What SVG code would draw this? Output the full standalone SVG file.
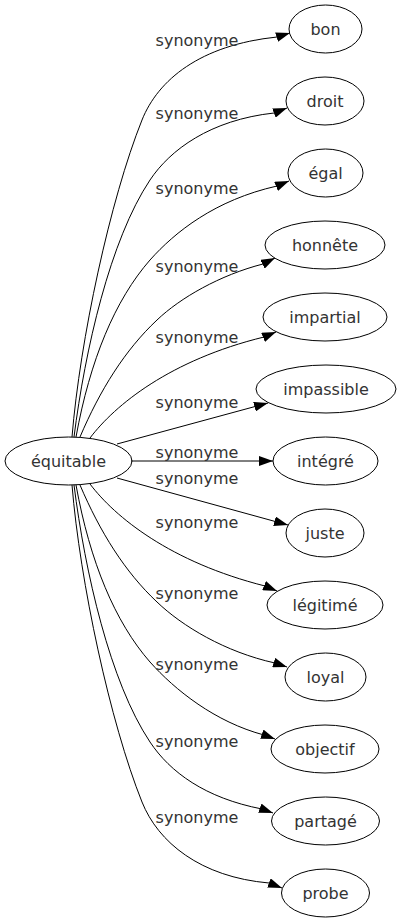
<svg xmlns="http://www.w3.org/2000/svg" width="401" height="923" viewBox="0 0 401 923">
<style>
.bg{fill:#ffffff}
.node ellipse{fill:none;stroke:#000;stroke-width:1}
.node text{font-family:"DejaVu Sans",sans-serif;font-size:16px;fill:#333;text-anchor:middle}
.edge path{fill:none;stroke:#000;stroke-width:1;marker-end:url(#arr)}
.edge text{font-family:"DejaVu Sans",sans-serif;font-size:16px;fill:#333;text-anchor:middle}
</style>
<defs>
<marker id="arr" markerUnits="userSpaceOnUse" markerWidth="14" markerHeight="10" viewBox="0 0 13.3 9.4" refX="13.3" refY="4.7" orient="auto">
<path d="M0,0 L13.3,4.7 L0,9.4 Z" fill="#000"/>
</marker>
</defs>
<rect class="bg" x="0" y="0" width="401" height="923"/>
<g id="edges">
<g class="edge" id="e-bon"><path d="M72,437 C80,340 110,200 142,120 C158,80 200,45 277,37 L290,33"/><text x="197" y="45.5">synonyme</text></g>
<g class="edge" id="e-droit"><path d="M74,437 C85,350 110,240 150,180 C170,150 210,120 274,113 L287,108"/><text x="197" y="118.5">synonyme</text></g>
<g class="edge" id="e-egal"><path d="M76,437 C90,360 115,300 150,260 C175,232 215,200 277,186 L289,181"/><text x="197" y="193.5">synonyme</text></g>
<g class="edge" id="e-honnete"><path d="M80,437 C100,390 125,350 157,320 C180,298 220,275 263,264 L275,258"/><text x="197" y="271.5">synonyme</text></g>
<g class="edge" id="e-impartial"><path d="M90,438 C115,405 170,360 264,337 L276,332"/><text x="197" y="342.5">synonyme</text></g>
<g class="edge" id="e-impassible"><path d="M117,444 L268,403"/><text x="197" y="407.5">synonyme</text></g>
<g class="edge" id="e-integre"><path d="M131,461 L273,461"/><text x="197" y="457.5">synonyme</text></g>
<g class="edge" id="e-juste"><path d="M117,478 L288,525"/><text x="197" y="483.5">synonyme</text></g>
<g class="edge" id="e-legitime"><path d="M90,484 C115,517 170,562 265,586 L277,591"/><text x="197" y="527.5">synonyme</text></g>
<g class="edge" id="e-loyal"><path d="M80,485 C100,532 125,572 157,602 C182,626 225,652 275,663 L287,667"/><text x="197" y="598.5">synonyme</text></g>
<g class="edge" id="e-objectif"><path d="M76,485 C90,562 115,622 150,662 C175,690 215,722 264,735 L275,739"/><text x="197" y="669.5">synonyme</text></g>
<g class="edge" id="e-partage"><path d="M74,485 C85,572 110,682 150,742 C170,772 205,798 262,809 L273,813"/><text x="197" y="746.5">synonyme</text></g>
<g class="edge" id="e-probe"><path d="M72,485 C80,582 110,722 142,802 C158,842 200,877 269,883 L282,888"/><text x="197" y="822.5">synonyme</text></g>
</g>
<g class="node" id="n-equitable"><ellipse cx="68.5" cy="461" rx="63.5" ry="24"/><text x="68.5" y="466.5">équitable</text></g>
<g class="node" id="n-bon"><ellipse cx="325.5" cy="29" rx="36.5" ry="24"/><text x="325.5" y="34.5">bon</text></g>
<g class="node" id="n-droit"><ellipse cx="325" cy="101" rx="39" ry="24"/><text x="325" y="106.5">droit</text></g>
<g class="node" id="n-egal"><ellipse cx="325.5" cy="173" rx="37.5" ry="24"/><text x="325.5" y="178.5">égal</text></g>
<g class="node" id="n-honnete"><ellipse cx="325" cy="245" rx="60" ry="24"/><text x="325" y="250.5">honnête</text></g>
<g class="node" id="n-impartial"><ellipse cx="325" cy="317" rx="62" ry="24"/><text x="325" y="322.5">impartial</text></g>
<g class="node" id="n-impassible"><ellipse cx="326" cy="389" rx="70" ry="24"/><text x="326" y="394.5">impassible</text></g>
<g class="node" id="n-integre"><ellipse cx="325.5" cy="461" rx="52.5" ry="24"/><text x="325.5" y="466.5">intégré</text></g>
<g class="node" id="n-juste"><ellipse cx="325" cy="533" rx="39" ry="24"/><text x="325" y="538.5">juste</text></g>
<g class="node" id="n-legitime"><ellipse cx="325" cy="605" rx="58" ry="24"/><text x="325" y="610.5">légitimé</text></g>
<g class="node" id="n-loyal"><ellipse cx="325.5" cy="677" rx="40.5" ry="24"/><text x="325.5" y="682.5">loyal</text></g>
<g class="node" id="n-objectif"><ellipse cx="325" cy="749" rx="54" ry="24"/><text x="325" y="754.5">objectif</text></g>
<g class="node" id="n-partage"><ellipse cx="325.5" cy="821" rx="54" ry="24"/><text x="325.5" y="826.5">partagé</text></g>
<g class="node" id="n-probe"><ellipse cx="325.5" cy="893" rx="44" ry="24"/><text x="325.5" y="898.5">probe</text></g>
</svg>
